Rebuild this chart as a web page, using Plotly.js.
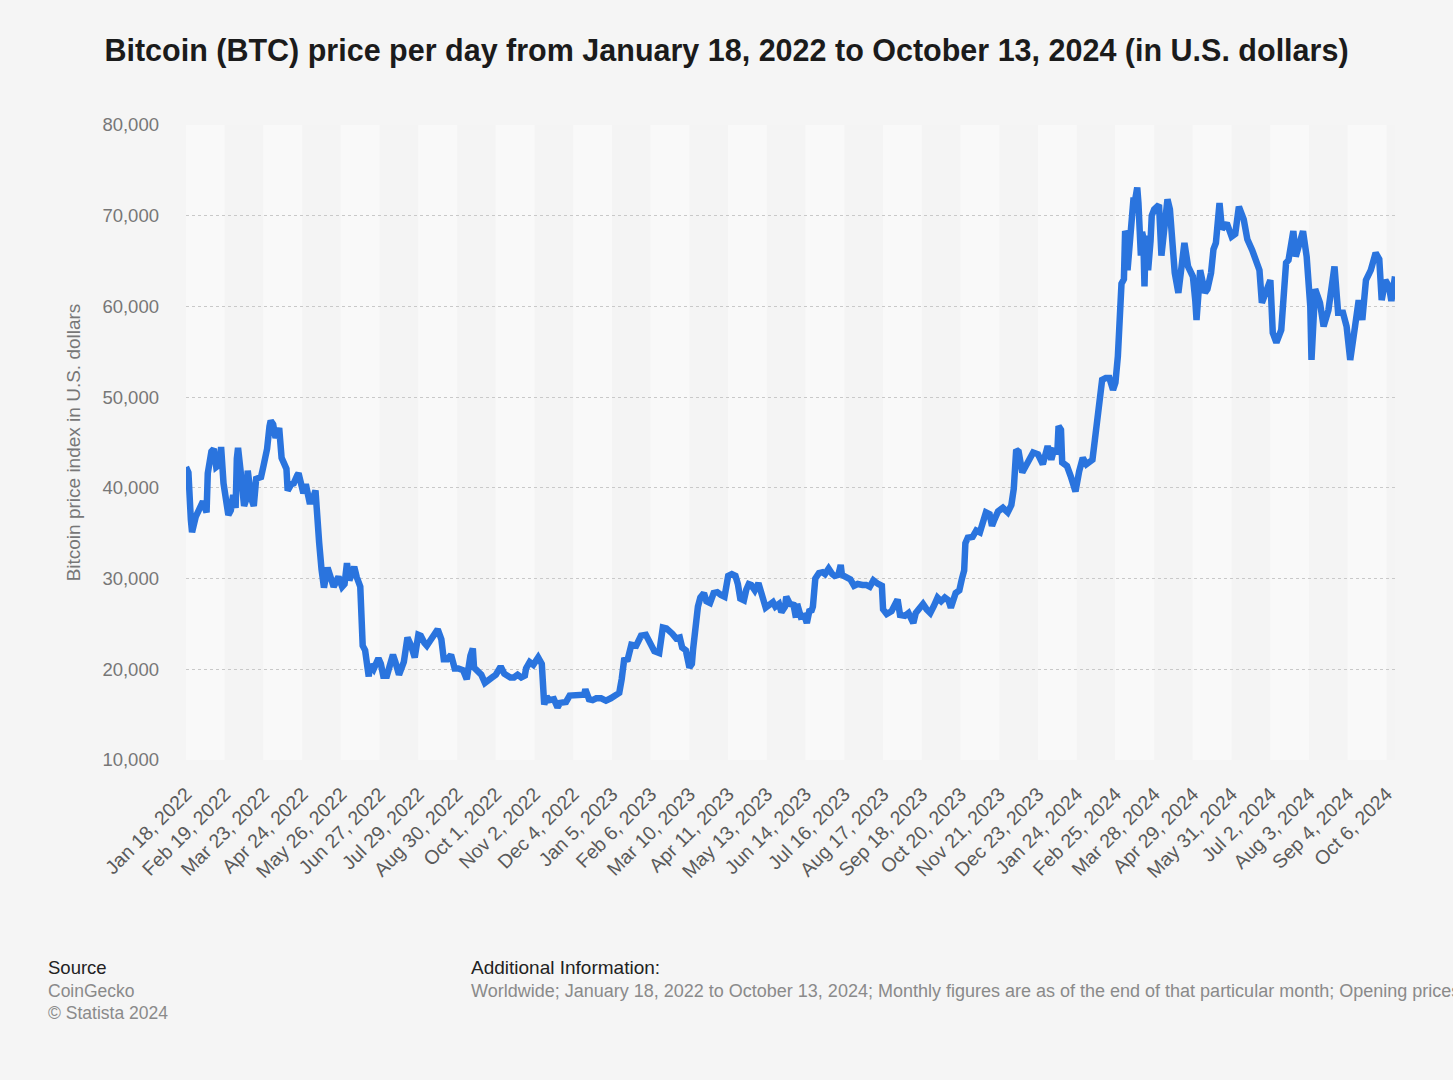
<!DOCTYPE html>
<html>
<head>
<meta charset="utf-8">
<script src="https://cdn.plot.ly/plotly-3.0.1.min.js"></script>
<style>
  html, body { margin: 0; padding: 0; background: #f5f5f5; overflow: hidden; }
  #chart { width: 1453px; height: 1080px; }
</style>
</head>
<body>
<div id="chart"></div>
<script>
// ---- Data ----
const dates = [
"2022-01-18","2022-01-20","2022-01-22","2022-01-23","2022-01-26","2022-01-29","2022-02-01","2022-02-04","2022-02-05","2022-02-08",
"2022-02-10","2022-02-12","2022-02-15","2022-02-16","2022-02-18","2022-02-22","2022-02-24","2022-02-26","2022-02-28","2022-03-01",
"2022-03-02","2022-03-04","2022-03-07","2022-03-09","2022-03-10","2022-03-13","2022-03-15","2022-03-17","2022-03-21","2022-03-23",
"2022-03-26","2022-03-28","2022-03-29","2022-03-31","2022-04-02","2022-04-05","2022-04-07","2022-04-11","2022-04-12","2022-04-15",
"2022-04-17","2022-04-20","2022-04-21","2022-04-25","2022-04-27","2022-04-30","2022-05-02","2022-05-05","2022-05-06","2022-05-08",
"2022-05-10","2022-05-12","2022-05-15","2022-05-17","2022-05-20","2022-05-24","2022-05-27","2022-05-29","2022-05-31","2022-06-02",
"2022-06-06","2022-06-08","2022-06-11","2022-06-13","2022-06-15","2022-06-18","2022-06-19","2022-06-22","2022-06-26","2022-06-28",
"2022-06-30","2022-07-03","2022-07-08","2022-07-10","2022-07-13","2022-07-17","2022-07-20","2022-07-23","2022-07-26","2022-07-29",
"2022-07-31","2022-08-03","2022-08-05","2022-08-08","2022-08-11","2022-08-14","2022-08-17","2022-08-19","2022-08-22","2022-08-25",
"2022-08-28","2022-08-31","2022-09-04","2022-09-07","2022-09-10","2022-09-12","2022-09-13","2022-09-16","2022-09-19","2022-09-22",
"2022-09-25","2022-09-28","2022-10-01","2022-10-05","2022-10-08","2022-10-13","2022-10-16","2022-10-19","2022-10-22","2022-10-25",
"2022-10-26","2022-10-29","2022-11-01","2022-11-05","2022-11-08","2022-11-09","2022-11-10","2022-11-12","2022-11-14","2022-11-18",
"2022-11-21","2022-11-23","2022-11-28","2022-12-01","2022-12-05","2022-12-09","2022-12-13","2022-12-14","2022-12-17","2022-12-20",
"2022-12-23","2022-12-27","2022-12-31","2023-01-04","2023-01-08","2023-01-11","2023-01-13","2023-01-15","2023-01-18","2023-01-21",
"2023-01-25","2023-01-29","2023-02-02","2023-02-06","2023-02-09","2023-02-13","2023-02-16","2023-02-19","2023-02-22","2023-02-24",
"2023-02-27","2023-03-02","2023-03-04","2023-03-07","2023-03-10","2023-03-12","2023-03-13","2023-03-15","2023-03-17","2023-03-19",
"2023-03-22","2023-03-24","2023-03-27","2023-03-30","2023-04-02","2023-04-05","2023-04-08","2023-04-11","2023-04-14","2023-04-17",
"2023-04-19","2023-04-21","2023-04-24","2023-04-26","2023-04-28","2023-04-30","2023-05-03","2023-05-06","2023-05-08","2023-05-10",
"2023-05-12","2023-05-15","2023-05-18","2023-05-20","2023-05-23","2023-05-25","2023-05-28","2023-05-29","2023-06-01","2023-06-04",
"2023-06-06","2023-06-07","2023-06-10","2023-06-13","2023-06-15","2023-06-17","2023-06-19","2023-06-20","2023-06-21","2023-06-22",
"2023-06-25","2023-06-28","2023-06-30","2023-07-03","2023-07-06","2023-07-08","2023-07-11","2023-07-13","2023-07-14","2023-07-18",
"2023-07-21","2023-07-24","2023-07-27","2023-07-31","2023-08-03","2023-08-06","2023-08-09","2023-08-13","2023-08-16","2023-08-17",
"2023-08-20","2023-08-24","2023-08-29","2023-08-31","2023-09-04","2023-09-07","2023-09-11","2023-09-13","2023-09-15","2023-09-19",
"2023-09-22","2023-09-25","2023-09-28","2023-10-01","2023-10-04","2023-10-07","2023-10-10","2023-10-12","2023-10-16","2023-10-19",
"2023-10-21","2023-10-23","2023-10-24","2023-10-26","2023-10-30","2023-11-02","2023-11-05","2023-11-09","2023-11-10","2023-11-13",
"2023-11-15","2023-11-17","2023-11-20","2023-11-24","2023-11-28","2023-12-01","2023-12-03","2023-12-05","2023-12-07","2023-12-10",
"2023-12-14","2023-12-19","2023-12-23","2023-12-27","2023-12-31","2024-01-03","2024-01-05","2024-01-08","2024-01-09","2024-01-11",
"2024-01-12","2024-01-16","2024-01-19","2024-01-22","2024-01-23","2024-01-26","2024-01-29","2024-02-01","2024-02-04","2024-02-06",
"2024-02-08","2024-02-10","2024-02-12","2024-02-14","2024-02-17","2024-02-20","2024-02-23","2024-02-25","2024-02-27","2024-02-28",
"2024-02-29","2024-03-01","2024-03-03","2024-03-04","2024-03-05","2024-03-06","2024-03-08","2024-03-09","2024-03-11","2024-03-12",
"2024-03-14","2024-03-15","2024-03-16","2024-03-17","2024-03-18","2024-03-19","2024-03-20","2024-03-21","2024-03-22","2024-03-23",
"2024-03-25","2024-03-26","2024-03-28","2024-03-30","2024-04-01","2024-04-03","2024-04-05","2024-04-08","2024-04-10","2024-04-13",
"2024-04-14","2024-04-17","2024-04-20","2024-04-22","2024-04-25","2024-04-27","2024-04-29","2024-05-01","2024-05-02","2024-05-05",
"2024-05-07","2024-05-09","2024-05-11","2024-05-14","2024-05-16","2024-05-18","2024-05-21","2024-05-23","2024-05-27","2024-05-31",
"2024-06-03","2024-06-06","2024-06-10","2024-06-13","2024-06-17","2024-06-20","2024-06-23","2024-06-25","2024-06-28","2024-07-02",
"2024-07-04","2024-07-07","2024-07-11","2024-07-15","2024-07-17","2024-07-21","2024-07-23","2024-07-26","2024-07-29","2024-08-01",
"2024-08-04","2024-08-05","2024-08-08","2024-08-12","2024-08-15","2024-08-19","2024-08-24","2024-08-27","2024-08-31","2024-09-03",
"2024-09-06","2024-09-10","2024-09-13","2024-09-16","2024-09-19","2024-09-23","2024-09-27","2024-09-30","2024-10-02","2024-10-05",
"2024-10-08","2024-10-10","2024-10-12","2024-10-13"
];
const prices = [
42300,41700,36500,35100,36800,37800,38500,37300,41600,44000,
44300,42300,42600,44500,40500,37000,37500,39200,37800,43200,
44400,42000,38000,38800,41900,38800,38000,41000,41200,42400,
44300,46800,47400,47000,45500,46600,43300,42100,39700,40400,
40500,41400,41600,39400,40400,38500,38500,39700,36600,34000,
31000,29000,31200,30200,29100,30200,29100,29400,31700,29800,
31300,30200,29100,22600,22100,19200,20500,20000,21200,20600,
19300,19300,21600,20800,19400,20800,23500,22600,21300,23800,
23700,22900,22600,23200,23900,24400,23300,21100,21100,21600,
20100,20100,19900,18900,21500,22300,20200,19700,19400,18500,
18900,19100,19400,20300,19500,19100,19100,19400,19100,19300,
20100,20800,20500,21300,20600,18500,16100,17000,16600,16700,
15800,16300,16400,17100,17100,17200,17200,17800,16700,16600,
16800,16800,16550,16800,17100,17400,18900,21000,21100,22700,
22600,23700,23800,22900,22000,21800,24600,24500,24200,23900,
23400,23500,22400,22100,20200,20600,22200,24800,26900,27900,
28400,27500,27300,28400,28500,28200,28000,30300,30500,30300,
29400,27800,27600,28800,29400,29300,28700,29500,28400,27600,
26800,27100,27400,26900,27200,26300,26900,28000,27200,27100,
25700,27200,25800,25900,25100,26400,26500,26900,28300,30000,
30600,30700,30500,31100,30500,30300,30400,31500,30400,30200,
29900,29200,29400,29300,29300,29100,29800,29400,29200,26600,
26100,26400,27700,26000,25900,26200,25100,26200,26500,27200,
26600,26200,27000,27900,27500,27900,27600,26800,28400,28700,
29900,30900,33900,34500,34600,35300,35100,36700,37300,37100,
35800,36500,37400,37800,37300,38100,39900,44200,44000,41700,
42700,43900,43700,42600,44600,43100,44100,44000,46800,46400,
42800,42400,41300,40000,39600,41800,43300,42600,43000,43100,
45300,47200,50000,51900,52100,52100,50800,51600,54500,57000,
62200,62500,63000,68300,68000,64000,67500,68300,72000,71500,
73100,71400,68900,65600,68200,67600,62200,67800,65100,64000,
67200,70000,70700,71000,71200,65600,67700,71800,70700,66500,
63700,61500,64400,67000,64400,63700,63300,60600,58500,64000,
62900,61500,61900,63700,66300,67000,71400,68500,69200,67700,
68000,71000,69600,67400,66200,65100,64000,60400,61500,62900,
57100,56000,57400,64800,65100,68300,65500,67000,68300,65500,
60000,54100,61900,60400,57800,59600,64400,59300,59300,57800,
54100,57800,60700,58500,62900,64000,65900,65200,60700,62900,
62200,60600,62400,63300
];
const tickDates = [
"2022-01-18","2022-02-19","2022-03-23","2022-04-24","2022-05-26","2022-06-27","2022-07-29","2022-08-30",
"2022-10-01","2022-11-02","2022-12-04","2023-01-05","2023-02-06","2023-03-10","2023-04-11","2023-05-13",
"2023-06-14","2023-07-16","2023-08-17","2023-09-18","2023-10-20","2023-11-21","2023-12-23","2024-01-24",
"2024-02-25","2024-03-28","2024-04-29","2024-05-31","2024-07-02","2024-08-03","2024-09-04","2024-10-06"
];
const tickLabels = [
"Jan 18, 2022","Feb 19, 2022","Mar 23, 2022","Apr 24, 2022","May 26, 2022","Jun 27, 2022","Jul 29, 2022","Aug 30, 2022",
"Oct 1, 2022","Nov 2, 2022","Dec 4, 2022","Jan 5, 2023","Feb 6, 2023","Mar 10, 2023","Apr 11, 2023","May 13, 2023",
"Jun 14, 2023","Jul 16, 2023","Aug 17, 2023","Sep 18, 2023","Oct 20, 2023","Nov 21, 2023","Dec 23, 2023","Jan 24, 2024",
"Feb 25, 2024","Mar 28, 2024","Apr 29, 2024","May 31, 2024","Jul 2, 2024","Aug 3, 2024","Sep 4, 2024","Oct 6, 2024"
];
const yTicks = [10000, 20000, 30000, 40000, 50000, 60000, 70000, 80000];
const yTickLabels = ["10,000","20,000","30,000","40,000","50,000","60,000","70,000","80,000"];
const startDate = "2022-01-18";
const endDate = "2024-10-13";

// ---- Layout helpers ----
const W = 1453, H = 1080;
const M = { l: 186, r: 58, t: 125, b: 320 };
const plotW = W - M.l - M.r, plotH = H - M.t - M.b;
const px = x => (x - M.l) / plotW;        // pixel -> paper x
const py = y => (H - M.b - y) / plotH;    // pixel -> paper y

const FONT = '"Liberation Sans", Arial, Helvetica, sans-serif';

// alternating vertical bands between ticks
const shapes = [];
for (let i = 0; i < tickDates.length; i++) {
  const x0 = tickDates[i];
  const x1 = i + 1 < tickDates.length ? tickDates[i + 1] : endDate;
  shapes.push({
    type: 'rect', xref: 'x', yref: 'paper', x0: x0, x1: x1, y0: 0, y1: 1,
    fillcolor: i % 2 === 0 ? '#f9f9f9' : '#f4f4f4', line: { width: 0 }, layer: 'below'
  });
}

const trace = {
  x: dates, y: prices, type: 'scatter', mode: 'lines',
  line: { color: '#2a74de', width: 6.5, shape: 'linear' },
  hoverinfo: 'x+y'
};

const annotations = [
  { text: 'Source', x: px(46), y: py(967), xanchor: 'left', yanchor: 'middle',
    font: { family: FONT, size: 18.5, color: '#222' } },
  { text: 'CoinGecko', x: px(46), y: py(991), xanchor: 'left', yanchor: 'middle',
    font: { family: FONT, size: 17.5, color: '#8a8a8a' } },
  { text: '© Statista 2024', x: px(46), y: py(1013), xanchor: 'left', yanchor: 'middle',
    font: { family: FONT, size: 17.5, color: '#8a8a8a' } },
  { text: 'Additional Information:', x: px(469), y: py(967), xanchor: 'left', yanchor: 'middle',
    font: { family: FONT, size: 19, color: '#222' } },
  { text: 'Worldwide; January 18, 2022 to October 13, 2024; Monthly figures are as of the end of that particular month; Opening prices',
    x: px(469), y: py(991), xanchor: 'left', yanchor: 'middle',
    font: { family: FONT, size: 18, color: '#8a8a8a' } }
].map(a => Object.assign({ xref: 'paper', yref: 'paper', showarrow: false }, a));

const layout = {
  width: W, height: H,
  margin: M,
  paper_bgcolor: '#f5f5f5',
  plot_bgcolor: '#f9f9f9',
  showlegend: false,
  title: {
    text: '<b>Bitcoin (BTC) price per day from January 18, 2022 to October 13, 2024 (in U.S. dollars)</b>',
    x: 0.5, xref: 'container', y: 1 - 50 / H, yref: 'container', yanchor: 'middle',
    font: { family: FONT, size: 30.5, color: '#1b1b1b' }
  },
  xaxis: {
    type: 'date',
    range: [startDate, endDate],
    tickmode: 'array', tickvals: tickDates, ticktext: tickLabels,
    tickangle: -45,
    tickfont: { family: FONT, size: 19.5, color: '#5a5a5a' },
    ticks: '', showgrid: false, zeroline: false, showline: false,
    ticklabelstandoff: 18,
    fixedrange: true
  },
  yaxis: {
    range: [10000, 80000],
    tickmode: 'array', tickvals: yTicks, ticktext: yTickLabels,
    tickfont: { family: FONT, size: 18.5, color: '#777' },
    showgrid: true, gridcolor: '#c9c9c9', griddash: 'dot', gridwidth: 1,
    zeroline: false, showline: false, ticks: '',
    ticklabelstandoff: 26,
    title: { text: 'Bitcoin price index in U.S. dollars', standoff: 16,
             font: { family: FONT, size: 19, color: '#777' } },
    fixedrange: true
  },
  shapes: shapes,
  annotations: annotations
};

Plotly.newPlot('chart', [trace], layout, { displayModeBar: false, staticPlot: true });
</script>
</body>
</html>
